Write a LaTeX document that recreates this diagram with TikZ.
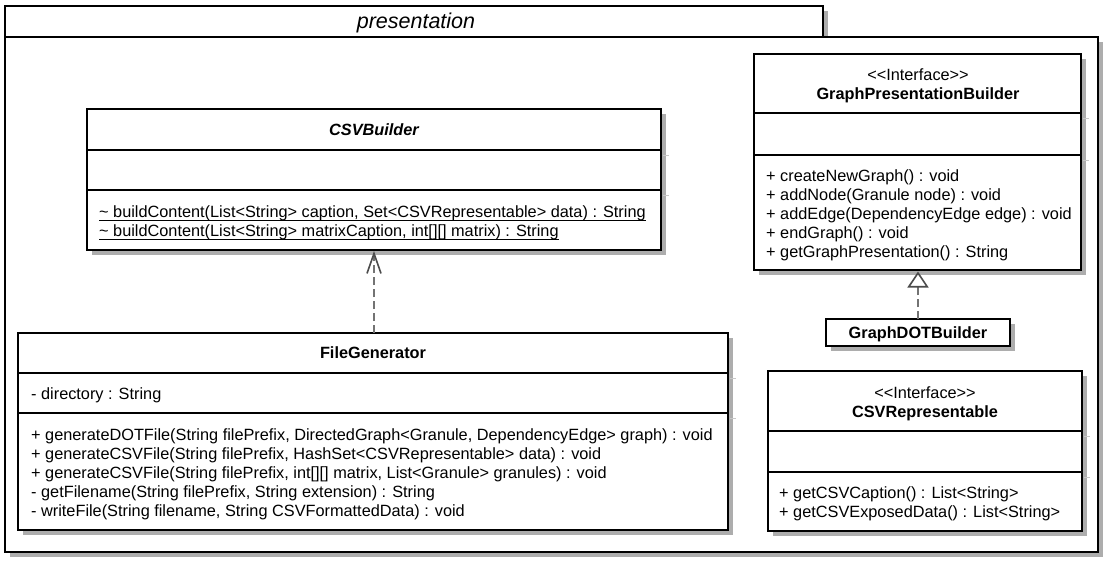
\documentclass[tikz,border=0pt]{standalone}
\usepackage{fontspec}
\setmainfont{Liberation Sans}
\usetikzlibrary{shadows,arrows.meta}
\newcommand\myul[1]{\setbox0=\hbox{#1}\rlap{\rule[-3.4pt]{\wd0}{1.2pt}}\box0}
\newcommand\stereo[1]{<\kern0pt<#1>\kern0pt>}
\begin{document}
\begin{tikzpicture}[x=1pt,y=-1pt,
  shd/.style={drop shadow={shadow xshift=4.5pt,shadow yshift=-4.5pt,fill=black!32,opacity=1}},
  cls/.style={draw=black,line width=2.4pt,fill=white,shd,anchor=north west,inner sep=0pt,outer sep=0pt},
  pkg/.style={draw=black,line width=2.4pt,fill=white,shd},
  sepline/.style={line width=2pt,black},
  extline/.style={line width=1.6pt,black!22},
  txt/.style={font=\fontsize{16.3}{19}\selectfont,inner sep=0pt,text height=14pt,text depth=3pt},
  lt/.style={txt,anchor=west},
  bftxt/.style={txt,font=\fontsize{16.3}{19}\selectfont\bfseries},
  dep/.style={line width=2pt,draw=black!55,dash pattern=on 8pt off 4pt},
]
\useasboundingbox[fill=white] (0,0) rectangle (1114,570);

% package
\draw[pkg] (5,6) rectangle (823,37);
\draw[pkg] (5,37) rectangle (1098,552);
\node[font=\fontsize{21.5}{24}\selectfont\itshape,inner sep=0pt,text height=15pt,text depth=6pt] (pkgtitle) at (416,23.5) {presentation};

% CSVBuilder
\node[cls,minimum width=574pt,minimum height=141pt] (csvb) at (87,109) {};
\foreach \yy in {150,190}{
  \draw[extline] ([xshift=1.5pt]csvb.east |- 0,\yy+5.5) -- ++(6,0);
  \draw[sepline] (csvb.west |- 0,\yy) -- (csvb.east |- 0,\yy);
}
\node[txt,font=\fontsize{16.3}{19}\selectfont\bfseries\itshape] (csvbname) at (374,130) {CSVBuilder};
\node[lt] (csvbm1) at (99,212) {\myul{\textasciitilde{} buildContent(List<String> caption, Set<CSVRepresentable> data) : String}};
\node[lt] (csvbm2) at (99,231) {\myul{\textasciitilde{} buildContent(List<String> matrixCaption, int[][] matrix) : String}};

% FileGenerator
\node[cls,minimum width=710pt,minimum height=197pt] (fg) at (18,333) {};
\foreach \yy in {373,413}{
  \draw[extline] ([xshift=1.5pt]fg.east |- 0,\yy+5.5) -- ++(6,0);
  \draw[sepline] (fg.west |- 0,\yy) -- (fg.east |- 0,\yy);
}
\node[bftxt] (fgname) at (373,353) {FileGenerator};
\node[lt] (fga1) at (31,394) {- directory : String};
\node[lt] (fgm1) at (31,435) {+ generateDOTFile(String filePrefix, DirectedGraph<Granule, DependencyEdge> graph) : void};
\node[lt] (fgm2) at (31,454) {+ generateCSVFile(String filePrefix, HashSet<CSVRepresentable> data) : void};
\node[lt] (fgm3) at (31,473) {+ generateCSVFile(String filePrefix, int[][] matrix, List<Granule> granules) : void};
\node[lt] (fgm4) at (31,492) {- getFilename(String filePrefix, String extension) : String};
\node[lt] (fgm5) at (31,511) {- writeFile(String filename, String CSVFormattedData) : void};

% GraphPresentationBuilder
\node[cls,minimum width=327pt,minimum height=216pt] (gpb) at (754,54) {};
\foreach \yy in {113,155}{
  \draw[extline] ([xshift=1.5pt]gpb.east |- 0,\yy+5.5) -- ++(6,0);
  \draw[sepline] (gpb.west |- 0,\yy) -- (gpb.east |- 0,\yy);
}
\node[txt] (gpbst) at (918,75) {\stereo{Interface}};
\node[bftxt] (gpbname) at (918,94) {GraphPresentationBuilder};
\node[lt] (gpbm1) at (766,176) {+ createNewGraph() : void};
\node[lt] (gpbm2) at (766,195) {+ addNode(Granule node) : void};
\node[lt] (gpbm3) at (766,214) {+ addEdge(DependencyEdge edge) : void};
\node[lt] (gpbm4) at (766,233) {+ endGraph() : void};
\node[lt] (gpbm5) at (766,252) {+ getGraphPresentation() : String};

% GraphDOTBuilder
\node[cls,minimum width=184pt,minimum height=27pt] (gdb) at (826,319) {};
\node[bftxt] (gdbname) at (918,333) {GraphDOTBuilder};

% CSVRepresentable
\node[cls,minimum width=314pt,minimum height=160pt] (csvr) at (768,371) {};
\foreach \yy in {431,472}{
  \draw[extline] ([xshift=1.5pt]csvr.east |- 0,\yy+5.5) -- ++(6,0);
  \draw[sepline] (csvr.west |- 0,\yy) -- (csvr.east |- 0,\yy);
}
\node[txt] (csvrst) at (925,393) {\stereo{Interface}};
\node[bftxt] (csvrname) at (925,412) {CSVRepresentable};
\node[lt] (csvrm1) at (779,493) {+ getCSVCaption() : List<String>};
\node[lt] (csvrm2) at (779,512) {+ getCSVExposedData() : List<String>};

% connectors
\draw[dep,-{Straight Barb[length=20pt,width=14pt,line width=1.6pt,color=black!70]}]
  (fg.north -| csvb.south) -- ([yshift=-1pt]csvb.south);
\draw[dep,-{Triangle[open,length=16pt,width=21pt,line width=1.6pt,color=black!70,fill=white]}]
  (gdb.north) -- ([yshift=-1.5pt]gpb.south -| gdb.north);
\end{tikzpicture}
\end{document}
